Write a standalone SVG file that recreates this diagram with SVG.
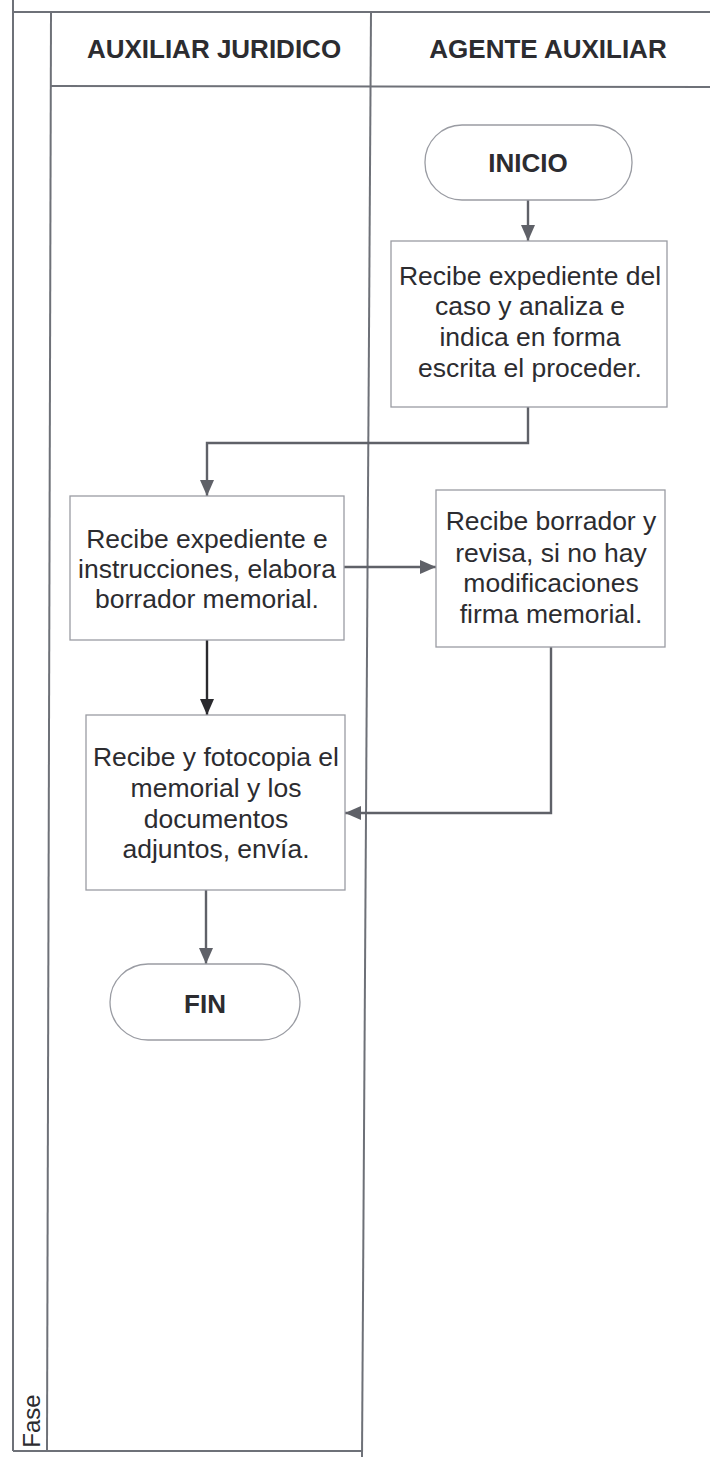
<svg xmlns="http://www.w3.org/2000/svg" width="710" height="1457" viewBox="0 0 710 1457">
<defs>
<style>
.lane{stroke:#6e7178;stroke-width:2;fill:none}
.box{fill:#fff;stroke:#9a9ca3;stroke-width:1.3}
.t{font-family:"Liberation Sans",Arial,sans-serif;font-size:26.5px;fill:#2c2c30;text-anchor:middle}
.h{font-family:"Liberation Sans",Arial,sans-serif;font-size:26px;font-weight:bold;fill:#2c2c30;text-anchor:middle}
.c{stroke:#5f6168;stroke-width:2.4;fill:none}
.cd{stroke:#2a2a2e;stroke-width:2.4;fill:none}
</style>
<marker id="ah" viewBox="0 0 16 14" refX="16" refY="7" markerWidth="16" markerHeight="14" markerUnits="userSpaceOnUse" orient="auto">
<path d="M0,0 L16,7 L0,14 z" fill="#5f6168"/>
</marker>
<marker id="ahd" viewBox="0 0 16 14" refX="16" refY="7" markerWidth="16" markerHeight="14" markerUnits="userSpaceOnUse" orient="auto">
<path d="M0,0 L16,7 L0,14 z" fill="#2a2a2e"/>
</marker>
</defs>
<rect width="710" height="1457" fill="#fff"/>
<g id="swimlanes">
<line class="lane" x1="13" y1="0" x2="13" y2="1451"/>
<line class="lane" x1="13" y1="12" x2="710" y2="12"/>
<line class="lane" x1="51" y1="12" x2="47" y2="1451"/>
<line class="lane" x1="371" y1="12" x2="362" y2="1457"/>
<line class="lane" x1="51" y1="86" x2="710" y2="87"/>
<line class="lane" x1="13" y1="1451" x2="362" y2="1451"/>
<text class="h" x="214" y="58">AUXILIAR JURIDICO</text>
<text class="h" x="548" y="58">AGENTE AUXILIAR</text>
<text class="t" transform="translate(40,1421) rotate(-90)" style="font-size:24px">Fase</text>
</g>
<g id="connectors">
<line class="c" x1="528" y1="200" x2="528" y2="241" marker-end="url(#ah)"/>
<polyline class="c" points="528,407 528,443 207,443 207,496" marker-end="url(#ah)"/>
<line class="c" x1="344" y1="567" x2="436" y2="567" marker-end="url(#ah)"/>
<line class="cd" x1="207" y1="640" x2="207" y2="715" marker-end="url(#ahd)"/>
<polyline class="c" points="551,647 551,813 345,813" marker-end="url(#ah)"/>
<line class="c" x1="206" y1="890" x2="206" y2="964" marker-end="url(#ah)"/>
</g>
<g id="inicio">
<rect class="box" x="425" y="125" width="207" height="75" rx="37" ry="37"/>
<text class="h" x="528" y="172">INICIO</text>
</g>
<g id="n1">
<rect class="box" x="391" y="241" width="276" height="166"/>
<text class="t" x="530" y="285">Recibe expediente del</text>
<text class="t" x="530" y="315">caso y analiza e</text>
<text class="t" x="530" y="346">indica en forma</text>
<text class="t" x="530" y="377">escrita el proceder.</text>
</g>
<g id="n2">
<rect class="box" x="70" y="496" width="274" height="144"/>
<text class="t" x="207" y="548">Recibe expediente e</text>
<text class="t" x="207" y="578">instrucciones, elabora</text>
<text class="t" x="207" y="608">borrador memorial.</text>
</g>
<g id="n3">
<rect class="box" x="436" y="490" width="229" height="157"/>
<text class="t" x="551" y="530">Recibe borrador y</text>
<text class="t" x="551" y="562">revisa, si no hay</text>
<text class="t" x="551" y="592">modificaciones</text>
<text class="t" x="551" y="623">firma memorial.</text>
</g>
<g id="n4">
<rect class="box" x="86" y="715" width="259" height="175"/>
<text class="t" x="216" y="766">Recibe y fotocopia el</text>
<text class="t" x="216" y="797">memorial y los</text>
<text class="t" x="216" y="828">documentos</text>
<text class="t" x="216" y="858">adjuntos, envía.</text>
</g>
<g id="fin">
<rect class="box" x="110" y="964" width="190" height="76" rx="38" ry="38"/>
<text class="h" x="205" y="1013">FIN</text>
</g>
</svg>
